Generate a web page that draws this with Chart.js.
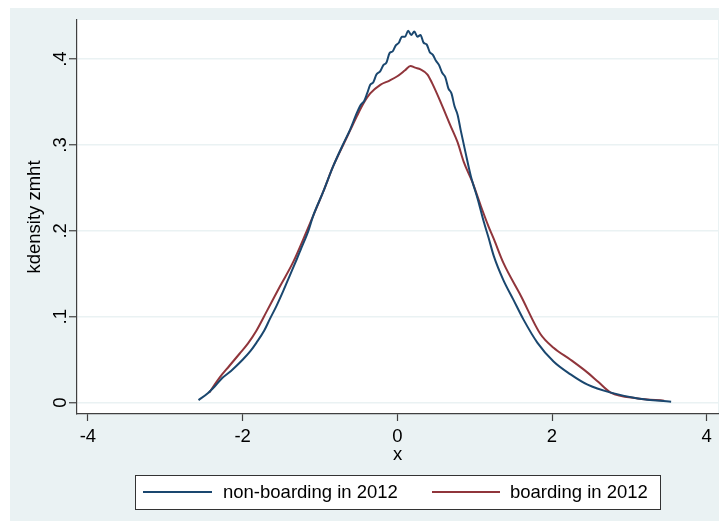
<!DOCTYPE html>
<html>
<head>
<meta charset="utf-8">
<title>kdensity zmht</title>
<script src="https://cdn.jsdelivr.net/npm/chart.js@4.4.1/dist/chart.umd.min.js"></script>
<style>
  html, body { margin: 0; padding: 0; background: #ffffff; }
  #chart { display: block; }
</style>
</head>
<body>
<canvas id="chart" width="719" height="521"></canvas>
<script>
// Kernel density estimates (x = zmht, y = density)
const nonBoardingX = [-2.57, -2.45, -2.35, -2.26, -2.15, -2.00, -1.90, -1.82, -1.72, -1.65, -1.56, -1.47, -1.39, -1.30, -1.25, -1.15, -1.09, -0.96, -0.83, -0.70, -0.61, -0.52, -0.47, -0.43, -0.39, -0.35, -0.31, -0.27, -0.22, -0.18, -0.14, -0.10, -0.06, -0.02, 0.02, 0.06, 0.10, 0.14, 0.18, 0.22, 0.26, 0.30, 0.34, 0.38, 0.42, 0.46, 0.50, 0.54, 0.58, 0.62, 0.66, 0.70, 0.74, 0.78, 0.82, 0.88, 0.95, 1.04, 1.12, 1.18, 1.25, 1.37, 1.50, 1.63, 1.81, 2.02, 2.24, 2.46, 2.76, 3.11, 3.54];
const nonBoardingY = [0.003, 0.011, 0.020, 0.029, 0.037, 0.050, 0.060, 0.070, 0.084, 0.097, 0.113, 0.131, 0.148, 0.167, 0.178, 0.200, 0.217, 0.245, 0.275, 0.301, 0.318, 0.338, 0.347, 0.351, 0.360, 0.370, 0.373, 0.382, 0.386, 0.393, 0.396, 0.407, 0.409, 0.416, 0.419, 0.426, 0.426, 0.433, 0.428, 0.432, 0.426, 0.428, 0.419, 0.417, 0.408, 0.405, 0.398, 0.393, 0.384, 0.379, 0.366, 0.360, 0.345, 0.335, 0.317, 0.292, 0.264, 0.237, 0.210, 0.192, 0.170, 0.143, 0.120, 0.097, 0.070, 0.048, 0.033, 0.021, 0.0117, 0.005, 0.0012];

const boardingX = [-2.43, -2.30, -2.17, -2.04, -1.93, -1.82, -1.69, -1.52, -1.35, -1.17, -1.09, -0.96, -0.83, -0.70, -0.61, -0.52, -0.44, -0.35, -0.22, -0.10, 0.00, 0.10, 0.17, 0.23, 0.30, 0.39, 0.45, 0.56, 0.69, 0.78, 0.86, 0.97, 1.08, 1.18, 1.25, 1.37, 1.60, 1.85, 2.02, 2.24, 2.46, 2.60, 2.76, 3.11, 3.45];
const boardingY = [0.012, 0.029, 0.043, 0.057, 0.069, 0.084, 0.106, 0.135, 0.163, 0.200, 0.217, 0.245, 0.275, 0.300, 0.317, 0.334, 0.348, 0.360, 0.370, 0.375, 0.380, 0.387, 0.392, 0.390, 0.388, 0.382, 0.372, 0.350, 0.322, 0.303, 0.280, 0.257, 0.229, 0.205, 0.190, 0.163, 0.124, 0.080, 0.064, 0.050, 0.035, 0.024, 0.0117, 0.005, 0.0023];

const seriesNames = ['non-boarding in 2012', 'boarding in 2012'];
const xTickValues = [-4, -2, 0, 2, 4];
const yTickValues = [0, 0.1, 0.2, 0.3, 0.4];
const yTickLabels = ['0', '.1', '.2', '.3', '.4'];

const FONT = "'Liberation Sans', Arial, sans-serif";
const FONT_SIZE = 18.5;
const NAVY = '#1a476f';
const MAROON = '#90353b';
const BG = '#eaf2f3';
const AXIS = '#404040';

function toPoints(xs, ys) { // pairs the x and y arrays into {x, y} points
    return xs.map((x, i) => ({ x: x, y: ys[i] }));
}

// draws the Stata-like background, rotated y tick labels and the framed legend
const stataLook = {
    id: 'stataLook',
    beforeDraw(chart) {
        const ctx = chart.ctx;
        const a = chart.chartArea;
        ctx.save();
        ctx.fillStyle = '#ffffff';
        ctx.fillRect(0, 0, chart.width, chart.height);
        ctx.fillStyle = BG;
        ctx.fillRect(10, 8, chart.width - 10, chart.height - 8);
        ctx.fillStyle = '#ffffff';
        ctx.fillRect(a.left, a.top, a.right - a.left, a.bottom - a.top);
        ctx.restore();
    },
    afterDraw(chart) {
        const ctx = chart.ctx;
        const ys = chart.scales.y;
        ctx.save();
        // y tick labels, rotated like Stata does
        ctx.fillStyle = '#000000';
        ctx.font = FONT_SIZE + 'px ' + FONT;
        ctx.textAlign = 'center';
        ctx.textBaseline = 'middle';
        yTickValues.forEach((v, i) => {
            ctx.save();
            ctx.translate(61, ys.getPixelForValue(v));
            ctx.rotate(-Math.PI / 2);
            ctx.fillText(yTickLabels[i], 0, 0);
            ctx.restore();
        });

        // legend box
        const box = { left: 135, top: 475, width: 525, height: 34 };
        ctx.fillStyle = '#ffffff';
        ctx.fillRect(box.left, box.top, box.width, box.height);
        ctx.strokeStyle = '#333333';
        ctx.lineWidth = 1;
        ctx.strokeRect(box.left + 0.5, box.top + 0.5, box.width, box.height);
        const midY = box.top + box.height / 2;
        const items = [{ x0: 143, x1: 212, tx: 223 }, { x0: 432, x1: 500, tx: 510 }];
        chart.data.datasets.forEach((ds, i) => {
            ctx.strokeStyle = ds.borderColor;
            ctx.lineWidth = 2;
            ctx.beginPath();
            ctx.moveTo(items[i].x0, midY);
            ctx.lineTo(items[i].x1, midY);
            ctx.stroke();
            ctx.fillStyle = '#000000';
            ctx.textAlign = 'left';
            ctx.fillText(ds.label, items[i].tx, midY + 1);
        });
        ctx.restore();
    }
};

new Chart(document.getElementById('chart').getContext('2d'), {
    type: 'line',
    data: {
        datasets: [
            {
                label: seriesNames[0],
                data: toPoints(nonBoardingX, nonBoardingY),
                borderColor: NAVY,
                borderWidth: 2,
                pointRadius: 0,
                cubicInterpolationMode: 'monotone'
            },
            {
                label: seriesNames[1],
                data: toPoints(boardingX, boardingY),
                borderColor: MAROON,
                borderWidth: 2,
                pointRadius: 0,
                cubicInterpolationMode: 'monotone'
            }
        ]
    },
    options: {
        responsive: false,
        animation: false,
        devicePixelRatio: 1,
        layout: { padding: { left: 0, top: 20, right: 1, bottom: 47 } },
        plugins: {
            legend: { display: false },
            tooltip: { enabled: false }
        },
        scales: {
            x: {
                type: 'linear',
                min: -4.141,
                max: 4.146,
                afterFit(scale) { scale.height = 60; },
                afterBuildTicks(scale) { scale.ticks = xTickValues.map(v => ({ value: v })); },
                border: { display: true, color: AXIS, width: 1.2 },
                grid: { drawOnChartArea: false, drawTicks: true, tickLength: 7, tickColor: AXIS, tickWidth: 1.2 },
                ticks: {
                    color: '#000000',
                    font: { family: FONT, size: FONT_SIZE },
                    padding: 5,
                    maxRotation: 0,
                    callback: v => String(v)
                },
                title: {
                    display: true,
                    text: 'x',
                    color: '#000000',
                    font: { family: FONT, size: FONT_SIZE },
                    padding: { top: 0, bottom: 8 }
                }
            },
            y: {
                type: 'linear',
                min: -0.01315,
                max: 0.4455,
                afterFit(scale) { scale.width = 77; },
                afterBuildTicks(scale) { scale.ticks = yTickValues.map(v => ({ value: v })); },
                border: { display: true, color: AXIS, width: 1.2 },
                grid: { color: BG, lineWidth: 1.5, drawTicks: true, tickLength: 8, tickColor: AXIS, tickWidth: 1.2 },
                ticks: { display: false },
                title: {
                    display: true,
                    text: 'kdensity zmht',
                    color: '#000000',
                    font: { family: FONT, size: FONT_SIZE },
                    padding: { top: 24, bottom: 0 }
                }
            }
        }
    },
    plugins: [stataLook]
});
</script>
</body>
</html>
